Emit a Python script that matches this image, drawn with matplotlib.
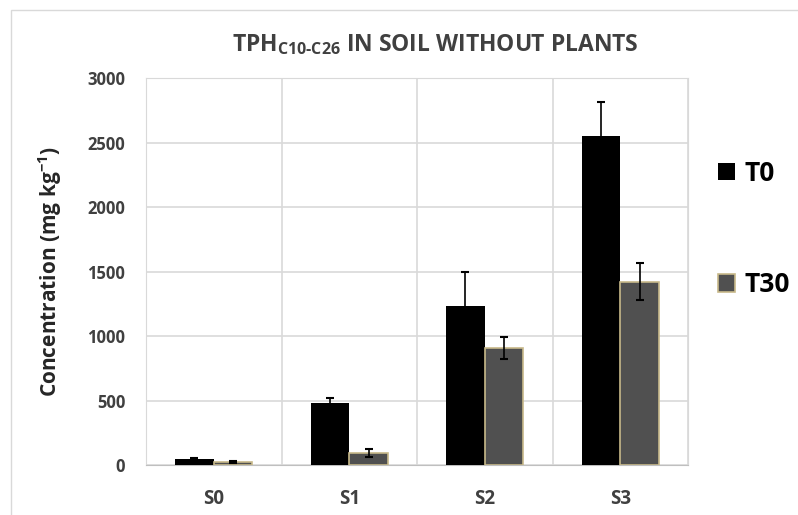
import matplotlib.pyplot as plt
import numpy as np
from matplotlib.patches import Rectangle

plt.rcParams['font.family'] = ['Open Sans', 'DejaVu Sans']
plt.rcParams['font.weight'] = 'bold'
plt.rcParams['mathtext.fontset'] = 'custom'
plt.rcParams['mathtext.rm'] = 'Open Sans:bold'
plt.rcParams['mathtext.bf'] = 'Open Sans:bold'

# data
sites = ["S0", "S1", "S2", "S3"]
t0 = [46, 483, 1235, 2553]
t0_err = [10, 38, 258, 258]
t30 = [25, 92, 905, 1421]
t30_err = [8, 30, 84, 143]

fig = plt.figure(figsize=(7.98, 5.15), dpi=100)
# light frame around the chart area
fig.patches.append(Rectangle((11 / 798, -0.01), 1.0, 1 - 10 / 515 + 0.01,
                             transform=fig.transFigure, fill=False,
                             edgecolor="#d9d9d9", linewidth=1))

ax = fig.add_axes([146 / 798, 1 - 465 / 515, (688 - 146) / 798, (465 - 78) / 515])

x = np.arange(len(sites))
w = 0.285
ax.bar(x - w / 2, t0, w, color="black", label="T0", zorder=3,
       yerr=t0_err, error_kw=dict(ecolor="black", elinewidth=1.2, capsize=3, capthick=1.5))
ax.bar(x + w / 2, t30, w, color="#505050", edgecolor="#c8b98a", linewidth=1.2,
       label="T30", zorder=3,
       yerr=t30_err, error_kw=dict(ecolor="black", elinewidth=1.2, capsize=3, capthick=1.5))

ax.set_xlim(-0.5, 3.5)
ax.set_ylim(0, 3000)
ax.set_yticks(np.arange(0, 3001, 500))
ax.set_xticks(x)
ax.set_xticklabels(sites)
ax.set_xticks(np.arange(-0.5, 3.6, 1), minor=True)
ax.grid(True, which="major", axis="y", color="#d9d9d9", linewidth=1.2, zorder=0)
ax.grid(True, which="minor", axis="x", color="#d9d9d9", linewidth=1.2, zorder=0)
ax.tick_params(axis="both", which="both", length=0, labelsize=12, colors="#404040")
ax.tick_params(axis="x", pad=17, labelsize=13.5)
ax.tick_params(axis="y", pad=15)
for lab in ax.get_xticklabels() + ax.get_yticklabels():
    lab.set_fontweight("bold")
for s in ax.spines.values():
    s.set_color("#d9d9d9")
ax.spines["bottom"].set_color("#bfbfbf")

ax.set_ylabel("Concentration (mg kg$^{-1}$)", fontsize=15, color="#262626",
              labelpad=17, fontweight="bold")
fig.text(435 / 798, 1 - 45 / 515, "TPH$_{\\mathregular{C10\\text{-}C26}}$ IN SOIL WITHOUT PLANTS",
         ha="center", va="center", fontsize=16.5, color="#404040", fontweight="bold")

leg = fig.legend(loc="center left", bbox_to_anchor=(718 / 798, 1 - 229 / 515),
                 frameon=False, fontsize=19, handlelength=0.65, handleheight=0.65,
                 handletextpad=0.35, labelspacing=3.2, borderpad=0, borderaxespad=0)
for t in leg.get_texts():
    t.set_color("black")
    t.set_fontweight("bold")

fig.savefig("out.png", dpi=100)
